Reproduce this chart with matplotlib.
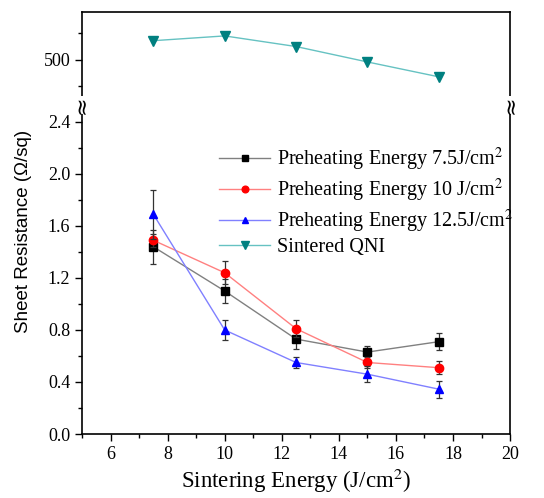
import numpy as np
import matplotlib.pyplot as plt
from matplotlib.ticker import MultipleLocator

x = [7.5, 10, 12.5, 15, 17.5]

r75 = [1.44, 1.10, 0.73, 0.63, 0.71]
e75 = [0.13, 0.09, 0.075, 0.05, 0.065]
r10 = [1.49, 1.24, 0.81, 0.55, 0.51]
e10 = [0.05, 0.09, 0.065, 0.04, 0.05]
r125 = [1.69, 0.80, 0.55, 0.46, 0.345]
e125 = [0.19, 0.08, 0.045, 0.06, 0.065]
qni = [536, 545, 525, 496, 468]

labels = ["Preheating Energy 7.5J/cm$^2$", "Preheating Energy 10 J/cm$^2$",
          "Preheating Energy 12.5J/cm$^2$", "Sintered QNI"]

serif = "Liberation Serif"
plt.rcParams['font.family'] = serif
plt.rcParams['mathtext.fontset'] = 'stix'

fig = plt.figure(figsize=(5.44, 4.98), dpi=100)
ax2 = fig.add_axes([0.1507, 0.1285, 0.787, 0.6606])
ax1 = fig.add_axes([0.1507, 0.7892, 0.787, 0.1867])

styles = [("#000000", "#808080", "s"), ("#ff0000", "#ff8080", "o"), ("#0000ff", "#8080ff", "^")]
handles = []
for y, e, (c, lc, m) in zip([r75, r10, r125], [e75, e10, e125], styles):
    ax2.errorbar(x, y, yerr=e, fmt="none", ecolor="#333333", elinewidth=0.9, capsize=2.5, capthick=0.9)
    h, = ax2.plot(x, y, color=lc, lw=1.0, marker=m, ms=6, mfc=c, mec=c)
    handles.append(h)
h, = ax1.plot(x, qni, color="#66c2c2", lw=1.0, marker="v", ms=6.5, mfc="#008080", mec="#008080")
handles.append(h)

for ax in (ax1, ax2):
    ax.set_xlim(5, 20)
    ax.tick_params(direction="out", length=5, width=1, labelsize=13)
    ax.tick_params(which="minor", direction="out", length=3, width=1)
    for s in ax.spines.values():
        s.set_linewidth(1.2)
    ax.tick_params(right=False, top=False)

ax1.set_ylim(415, 590)
ax1.yaxis.set_major_locator(MultipleLocator(100))
ax1.yaxis.set_minor_locator(MultipleLocator(50))
ax1.spines["bottom"].set_visible(False)
ax1.tick_params(axis="x", which="both", bottom=False, labelbottom=False)

ax2.set_ylim(0, 2.53)
ax2.yaxis.set_major_locator(MultipleLocator(0.4))
ax2.yaxis.set_minor_locator(MultipleLocator(0.2))
ax2.xaxis.set_minor_locator(MultipleLocator(1))
ax2.spines["top"].set_visible(False)
ax2.set_xticks([6, 8, 10, 12, 14, 16, 18, 20])

ax2.set_xlabel("Sintering Energy (J/cm$^2$)", fontsize=16.5, labelpad=3)
fig.text(0.044, 0.536, "Sheet Resistance (\u03a9/sq)", rotation=90, fontsize=13.5,
         family="Liberation Sans", ha="center", va="center")

leg = ax2.legend(handles, labels, loc="upper right", bbox_to_anchor=(1.05, 0.93), frameon=False,
                 fontsize=14.5, handlelength=2.5, labelspacing=0.18, handletextpad=0.35,
                 markerscale=0.8)

for xf in (0.1507, 0.1507 + 0.787):
    fig.text(xf, 0.7892, "\u2248", rotation=90, fontsize=16, ha="center", va="center",
             family="DejaVu Sans", bbox=dict(fc="white", ec="none", pad=0))

fig.savefig("out.png", dpi=100)
